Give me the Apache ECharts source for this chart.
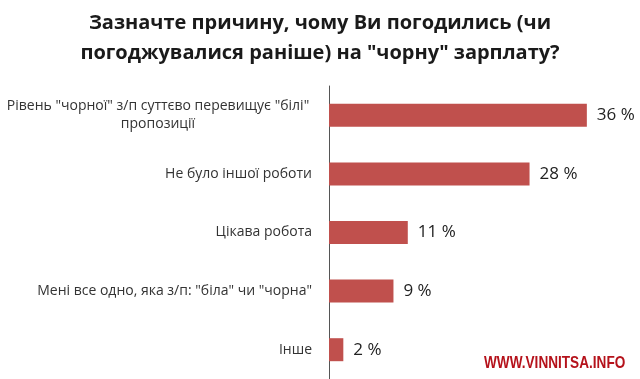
<!DOCTYPE html>
<html>
<head>
<meta charset="utf-8">
<script src="https://cdn.jsdelivr.net/npm/echarts@6/dist/echarts.min.js"></script>
<style>html,body{margin:0;padding:0;background:#fff;}#c{width:640px;height:379px;}</style>
</head>
<body>
<div id="c"></div>
<script>
var titleText = 'Зазначте причину, чому Ви погодились (чи\nпогоджувалися раніше) на "чорну" зарплату?';
var categories = [
  'Рівень "чорної" з/п суттєво перевищує "білі"\nпропозиції',
  'Не було іншої роботи',
  'Цікава робота',
  'Мені все одно, яка з/п: "біла" чи "чорна"',
  'Інше'
];
var values = [36, 28, 11, 9, 2];
var watermark = 'WWW.VINNITSA.INFO';

var chart = echarts.init(document.getElementById('c'));
chart.setOption({
  backgroundColor: '#ffffff',
  animation: false,
  title: {
    text: titleText,
    left: 'center',
    top: 3,
    textStyle: {
      fontFamily: 'Open Sans',
      fontSize: 20,
      fontWeight: 'bold',
      color: '#1a1a1a',
      lineHeight: 30
    }
  },
  grid: { left: 329, right: 24.5, top: 86, height: 295, containLabel: false },
  xAxis: {
    type: 'value', min: 0, max: 40, show: false
  },
  yAxis: {
    type: 'category',
    data: categories,
    inverse: true,
    axisLine: { show: true, lineStyle: { color: '#555', width: 1 } },
    axisTick: { show: false },
    axisLabel: {
      margin: 17,
      fontFamily: 'Open Sans',
      fontSize: 14,
      color: '#333',
      lineHeight: 18,
      formatter: function (v) {
        if (v.indexOf('\n') >= 0) {
          return v.split('\n').map(function (s) { return '{c|' + s + '}'; }).join('\n');
        }
        return v;
      },
      rich: {
        c: { width: 308, align: 'center', fontFamily: 'Open Sans', fontSize: 14, color: '#333', lineHeight: 18 }
      }
    }
  },
  series: [{
    type: 'bar',
    data: values,
    barWidth: 23,
    itemStyle: { color: '#c0504d' },
    label: {
      show: true,
      position: 'right',
      distance: 10,
      formatter: '{c} %',
      fontFamily: 'Open Sans',
      fontSize: 17,
      color: '#222'
    }
  }],
  graphic: [{
    type: 'text',
    x: 484,
    y: 355,
    scaleX: 0.8,
    style: {
      text: watermark,
      fontFamily: 'Liberation Sans',
      fontWeight: 'bold',
      fontSize: 17,
      fill: '#b5121b'
    }
  }]
});
</script>
</body>
</html>
